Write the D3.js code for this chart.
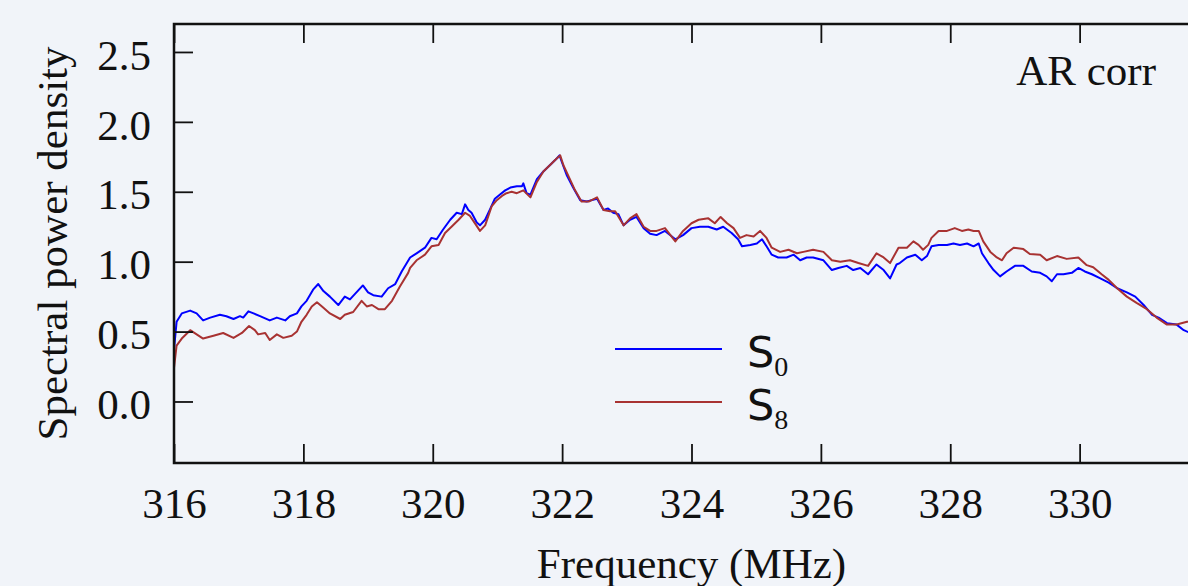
<!DOCTYPE html>
<html>
<head>
<meta charset="utf-8">
<script src="https://cdn.jsdelivr.net/npm/d3@7"></script>
<style>
  html, body { margin: 0; padding: 0; background: #f1f4f9; overflow: hidden; }
  svg { display: block; }
</style>
</head>
<body>
<svg id="chart" width="1188" height="586"></svg>
<script>
// ---- data ----
const xTicks = [316, 318, 320, 322, 324, 326, 328, 330];
const yTicks = [0.0, 0.5, 1.0, 1.5, 2.0, 2.5];
const seriesNames = ["S0", "S8"];

const s0Freq = [316.00,316.04,316.12,316.25,316.35,316.45,316.56,316.71,316.81,316.92,317.02,317.07,317.15,317.23,317.33,317.48,317.59,317.72,317.79,317.90,317.97,318.05,318.15,318.23,318.31,318.41,318.54,318.64,318.72,318.82,318.92,319.00,319.08,319.21,319.31,319.42,319.52,319.65,319.75,319.88,319.98,320.06,320.16,320.27,320.37,320.45,320.50,320.55,320.60,320.68,320.73,320.81,320.89,320.96,321.04,321.12,321.20,321.30,321.38,321.40,321.45,321.51,321.61,321.71,321.81,321.92,321.96,321.99,322.07,322.17,322.28,322.38,322.46,322.54,322.64,322.71,322.79,322.87,322.95,323.05,323.15,323.26,323.36,323.46,323.59,323.75,323.87,324.00,324.13,324.26,324.39,324.49,324.62,324.72,324.78,324.91,325.01,325.09,325.16,325.24,325.34,325.47,325.58,325.68,325.78,325.88,326.04,326.17,326.27,326.40,326.50,326.61,326.73,326.86,326.97,327.07,327.17,327.22,327.33,327.46,327.56,327.64,327.71,327.82,327.95,328.05,328.15,328.26,328.36,328.44,328.49,328.59,328.67,328.77,328.87,329.00,329.13,329.26,329.39,329.49,329.57,329.65,329.75,329.88,329.98,330.08,330.19,330.32,330.45,330.58,330.73,330.86,330.99,331.12,331.22,331.35,331.50,331.61,331.71];
const s0Val = [0.37,0.57,0.63,0.65,0.63,0.58,0.60,0.62,0.61,0.59,0.61,0.60,0.645,0.63,0.61,0.58,0.60,0.58,0.61,0.63,0.68,0.72,0.80,0.84,0.79,0.75,0.69,0.75,0.73,0.78,0.83,0.78,0.76,0.75,0.81,0.84,0.93,1.03,1.06,1.10,1.17,1.16,1.23,1.30,1.35,1.34,1.41,1.37,1.35,1.28,1.26,1.30,1.38,1.45,1.48,1.51,1.53,1.54,1.54,1.56,1.49,1.48,1.59,1.645,1.69,1.74,1.76,1.72,1.62,1.53,1.44,1.43,1.44,1.45,1.37,1.38,1.35,1.34,1.26,1.30,1.32,1.24,1.20,1.19,1.22,1.16,1.19,1.24,1.25,1.25,1.23,1.25,1.205,1.16,1.11,1.12,1.13,1.16,1.11,1.05,1.03,1.03,1.05,1.01,1.03,1.03,1.01,0.94,0.955,0.97,0.94,0.955,0.91,0.98,0.94,0.88,0.98,0.99,1.03,1.05,1.01,1.04,1.11,1.12,1.12,1.13,1.12,1.13,1.11,1.13,1.06,0.99,0.94,0.895,0.93,0.97,0.97,0.93,0.92,0.895,0.86,0.91,0.91,0.92,0.955,0.93,0.91,0.88,0.85,0.81,0.78,0.75,0.69,0.62,0.60,0.56,0.55,0.51,0.49];

const s8Freq = [316.00,316.04,316.12,316.25,316.35,316.45,316.61,316.76,316.92,317.05,317.16,317.25,317.30,317.41,317.48,317.59,317.69,317.82,317.90,317.97,318.05,318.13,318.21,318.31,318.41,318.57,318.64,318.77,318.90,318.98,319.06,319.16,319.26,319.37,319.49,319.62,319.65,319.75,319.88,319.98,320.09,320.19,320.29,320.40,320.50,320.57,320.63,320.73,320.81,320.91,320.99,321.07,321.14,321.22,321.30,321.40,321.51,321.61,321.71,321.81,321.92,321.97,322.02,322.10,322.20,322.30,322.41,322.54,322.64,322.74,322.82,322.95,323.05,323.15,323.26,323.36,323.46,323.59,323.75,323.87,324.00,324.11,324.26,324.36,324.45,324.55,324.65,324.75,324.85,324.96,325.06,325.16,325.24,325.37,325.50,325.63,325.73,325.88,326.04,326.17,326.30,326.45,326.58,326.73,326.86,326.97,327.07,327.20,327.33,327.43,327.51,327.58,327.66,327.71,327.82,327.95,328.07,328.18,328.28,328.36,328.44,328.51,328.62,328.72,328.80,328.87,328.98,329.13,329.23,329.39,329.49,329.65,329.80,329.98,330.11,330.21,330.34,330.45,330.58,330.73,330.88,331.04,331.19,331.35,331.50,331.66,331.74];
const s8Val = [0.24,0.40,0.45,0.51,0.48,0.45,0.47,0.49,0.455,0.49,0.54,0.51,0.48,0.49,0.44,0.48,0.455,0.47,0.50,0.57,0.62,0.68,0.71,0.67,0.63,0.59,0.62,0.64,0.72,0.68,0.69,0.66,0.66,0.72,0.82,0.92,0.955,1.01,1.05,1.11,1.12,1.205,1.25,1.30,1.35,1.33,1.29,1.22,1.26,1.395,1.44,1.47,1.49,1.50,1.49,1.51,1.46,1.57,1.645,1.69,1.74,1.76,1.69,1.61,1.51,1.43,1.43,1.46,1.37,1.36,1.36,1.26,1.31,1.34,1.25,1.22,1.22,1.24,1.145,1.22,1.275,1.30,1.31,1.275,1.32,1.275,1.24,1.17,1.19,1.18,1.22,1.17,1.10,1.07,1.085,1.06,1.07,1.085,1.07,1.01,1.00,1.01,0.99,0.97,1.06,1.03,0.99,1.10,1.10,1.145,1.12,1.085,1.12,1.17,1.22,1.22,1.24,1.22,1.23,1.22,1.22,1.145,1.07,1.03,1.01,1.06,1.10,1.09,1.055,1.05,1.01,1.04,1.02,1.03,0.975,0.96,0.91,0.87,0.81,0.75,0.705,0.66,0.60,0.55,0.55,0.57,0.57];

(function () {
// ---- layout ----
const svg = d3.select("#chart");
const pL = 174, pT = 24, pR = 1209, pB = 463;
const serif = "'Liberation Serif', 'Times New Roman', serif";
const fs = 43;

svg.append("rect").attr("width", 1188).attr("height", 586).attr("fill", "#f1f4f9");

const x = d3.scaleLinear().domain([316, 332]).range([pL, pR]);
const y = d3.scaleLinear().domain([-0.44, 2.7]).range([pB, pT]);

svg.append("defs").append("clipPath").attr("id", "clip")
  .append("rect").attr("x", pL).attr("y", pT).attr("width", pR - pL).attr("height", pB - pT);

const mk = (fr, vals) => fr.map((f, i) => [f, vals[i]]);
const line = d3.line().x(d => x(d[0])).y(d => y(d[1]));
const g = svg.append("g").attr("clip-path", "url(#clip)");
g.append("path").datum(mk(s0Freq, s0Val)).attr("d", line)
  .attr("fill", "none").attr("stroke", "#0000ff").attr("stroke-width", 2).attr("stroke-linejoin", "round");
g.append("path").datum(mk(s8Freq, s8Val)).attr("d", line)
  .attr("fill", "none").attr("stroke", "#a83232").attr("stroke-width", 2).attr("stroke-linejoin", "round");

function styleAxis(sel) {
  sel.select(".domain").remove();
  sel.selectAll(".tick line").attr("stroke", "#111").attr("stroke-width", 1.8);
  sel.selectAll(".tick text").attr("fill", "#111").style("font-family", serif).style("font-size", fs + "px");
}
const xAxis = svg.append("g").attr("transform", `translate(0,${pB})`)
  .call(d3.axisBottom(x).tickValues(xTicks).tickFormat(d3.format("d")).tickSize(-19).tickPadding(24));
styleAxis(xAxis);
const xTop = svg.append("g").attr("transform", `translate(0,${pT})`)
  .call(d3.axisTop(x).tickValues(xTicks).tickFormat("").tickSize(-19));
styleAxis(xTop);
const yAxis = svg.append("g").attr("transform", `translate(${pL},0)`)
  .call(d3.axisLeft(y).tickValues(yTicks).tickFormat(d3.format(".1f")).tickSize(-19).tickPadding(23));
styleAxis(yAxis);
yAxis.selectAll(".tick text").attr("dy", "0.40em");
const yRight = svg.append("g").attr("transform", `translate(${pR},0)`)
  .call(d3.axisRight(y).tickValues(yTicks).tickFormat("").tickSize(-19));
styleAxis(yRight);

svg.append("rect").attr("x", pL).attr("y", pT).attr("width", pR - pL).attr("height", pB - pT)
  .attr("fill", "none").attr("stroke", "#111").attr("stroke-width", 2.5);

svg.append("text").attr("x", (pL + pR) / 2).attr("y", 578).attr("text-anchor", "middle")
  .style("font-family", serif).style("font-size", fs + "px").attr("fill", "#111").text("Frequency (MHz)");
svg.append("text").attr("transform", `translate(67,${(pT + pB) / 2}) rotate(-90)`).attr("text-anchor", "middle")
  .style("font-family", serif).style("font-size", fs + "px").attr("fill", "#111").text("Spectral power density");

svg.append("text").attr("x", 1156).attr("y", 85).attr("text-anchor", "end")
  .style("font-family", serif).style("font-size", fs + "px").attr("fill", "#111").text("AR corr");

const legendColors = ["#0000ff", "#a83232"];
const legendY = [349, 402];
const subs = ["0", "8"];
seriesNames.forEach((n, i) => {
  svg.append("line").attr("x1", 615).attr("x2", 722).attr("y1", legendY[i]).attr("y2", legendY[i])
    .attr("stroke", legendColors[i]).attr("stroke-width", 2);
  const t = svg.append("text").attr("x", 747).attr("y", legendY[i] + 18).attr("fill", "#111");
  t.append("tspan").style("font-family", "'DejaVu Sans', sans-serif").style("font-size", "43px").text("S");
  t.append("tspan").attr("dy", 9).style("font-family", serif).style("font-size", "28px").text(subs[i]);
});
})();
</script>
</body>
</html>
